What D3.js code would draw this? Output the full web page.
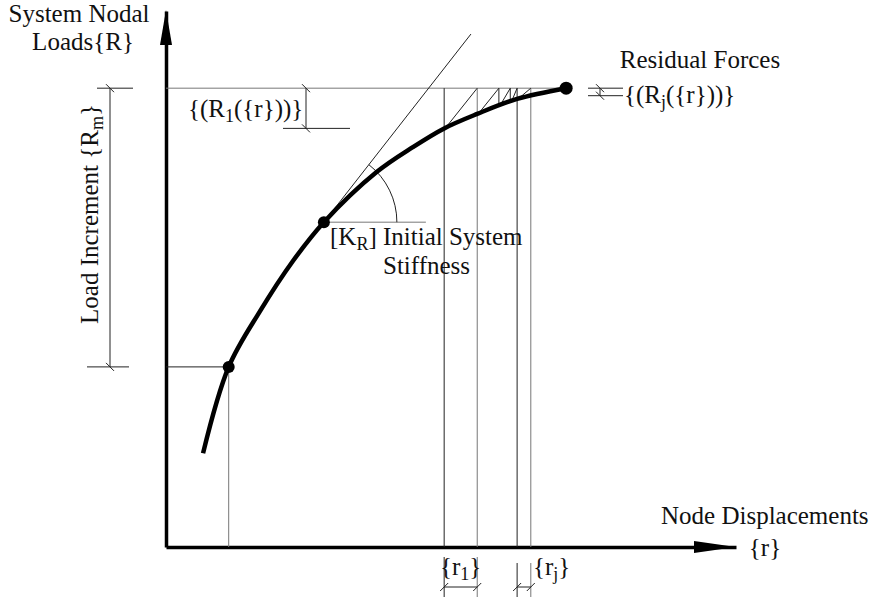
<!DOCTYPE html>
<html>
<head>
<meta charset="utf-8">
<script src="https://cdn.jsdelivr.net/npm/d3@7"></script>
<style>
  body { margin: 0; background: #fff; }
  text { font-family: "Liberation Serif", "Times New Roman", serif; font-size: 25px; fill: #111; }
</style>
</head>
<body>
<svg id="chart" width="871" height="597"></svg>
<script>
// response curve (displacement r, load R)
const curveDisp = [0.65, 1.10, 1.65, 2.23, 2.77, 3.70, 4.33, 4.88, 5.46, 6.16, 7.02];
const curveLoad = [1.75, 3.36, 4.40, 5.34, 6.06, 7.00, 7.46, 7.81, 8.08, 8.36, 8.56];

// marked states: start of increment, tangent point, converged state
const markDisp = [1.10, 2.77, 7.02];
const markLoad = [3.36, 6.06, 8.56];

// iteration states on the curve
const iterDisp = [4.88, 5.46, 5.84, 6.04, 6.16, 6.40];
const iterLoad = [7.81, 8.08, 8.23, 8.30, 8.36, 8.42];
const iterFull = [true, true, false, false, true, true];
const iterGray = [false, true, false, false, false, true];

// initial stiffness line end point and target load
const tangentEnd = [5.35, 9.57];
const targetLoad = 8.56;

const svg = d3.select('#chart');

const x = d3.scaleLinear().domain([0, 10]).range([166, 736]);
const y = d3.scaleLinear().domain([0, 10]).range([547, 11]);

const thin = '#222', gray = '#777';

function seg(x1, y1, x2, y2, color, w) {
  svg.append('line')
    .attr('x1', x1).attr('y1', y1).attr('x2', x2).attr('y2', y2)
    .attr('stroke', color || thin)
    .attr('stroke-width', w || 1);
}

// little architectural tick on a dimension line
function slash(cx, cy, dir) {
  const s = dir === 'up' ? -1 : 1;
  seg(cx - 4, cy - 4 * s, cx + 4, cy + 4 * s, thin, 1);
}

// text with subscripts: parts = [[string, isSub], ...]
function label(parts, px, py, anchor, rotate) {
  const t = svg.append('text')
    .attr('x', px).attr('y', py)
    .attr('text-anchor', anchor || 'start');
  if (rotate) t.attr('transform', `rotate(${rotate},${px},${py})`);
  let shifted = false;
  parts.forEach(([s, sub]) => {
    const sp = t.append('tspan').text(s);
    if (sub && !shifted) { sp.attr('dy', 5).style('font-size', '18px'); shifted = true; }
    else if (!sub && shifted) { sp.attr('dy', -5); shifted = false; }
    else if (sub) sp.style('font-size', '18px');
  });
  return t;
}

// axes (no ticks, just the bold arrows)
const xAxisG = svg.append('g')
  .attr('transform', `translate(0,${y(0)})`)
  .call(d3.axisBottom(x).tickValues([]).tickSizeOuter(0));
const yAxisG = svg.append('g')
  .attr('transform', `translate(${x(0)},0)`)
  .call(d3.axisLeft(y).tickValues([]).tickSizeOuter(0));
[xAxisG, yAxisG].forEach(g => g.select('.domain').attr('stroke', '#000').attr('stroke-width', 3.5));

svg.append('path')
  .attr('d', `M${x(0) - 6},45 L${x(0)},${y(10) - 1} L${x(0) + 6},45 Z`)
  .attr('fill', '#000');
svg.append('path')
  .attr('d', `M694,${y(0) - 6} L${x(10)},${y(0)} L694,${y(0) + 6} Z`)
  .attr('fill', '#000');

// target load line
seg(x(0), y(targetLoad), x(markDisp[2]), y(targetLoad), gray, 1);

// start of increment guides
seg(x(0), y(markLoad[0]), x(markDisp[0]), y(markLoad[0]), thin, 1);
seg(x(markDisp[0]), y(markLoad[0]), x(markDisp[0]), y(0), gray, 1);

// iteration verticals
iterDisp.forEach((d, i) => {
  const bottom = iterFull[i] ? y(0) : y(iterLoad[i]);
  seg(x(d), y(targetLoad), x(d), bottom, iterGray[i] ? gray : thin, 1);
});

// iteration diagonals (parallel stiffness steps)
iterDisp.slice(0, -1).forEach((d, i) => {
  seg(x(d) + 1, y(iterLoad[i]), x(iterDisp[i + 1]), y(targetLoad), thin, 1);
});

// initial stiffness tangent
seg(x(markDisp[1]), y(markLoad[1]), x(tangentEnd[0]), y(tangentEnd[1]), thin, 1);

// angle marker
const cx = x(markDisp[1]), cy = y(markLoad[1]);
const theta = Math.atan2(cy - y(tangentEnd[1]), x(tangentEnd[0]) - cx);
seg(cx, cy, cx + 102, cy, gray, 1);
const arcP = d3.path();
arcP.moveTo(cx + 73, cy);
arcP.arc(cx, cy, 73, 0, -theta, true);
svg.append('path').attr('d', arcP.toString()).attr('fill', 'none').attr('stroke', thin);

// response curve
const line = d3.line()
  .x(d => x(d[0]))
  .y(d => y(d[1]))
  .curve(d3.curveCatmullRom.alpha(0.5));
svg.append('path')
  .datum(curveDisp.map((d, i) => [d, curveLoad[i]]))
  .attr('d', line)
  .attr('fill', 'none')
  .attr('stroke', '#000')
  .attr('stroke-width', 4.5)
  .attr('stroke-linecap', 'butt');

svg.selectAll('circle.mark')
  .data(markDisp)
  .enter()
  .append('circle')
  .attr('class', 'mark')
  .attr('cx', d => x(d))
  .attr('cy', (d, i) => y(markLoad[i]))
  .attr('r', (d, i) => i === 2 ? 6.5 : 6)
  .attr('fill', '#000');

// load increment dimension
const dimX = 110;
seg(dimX, y(targetLoad), dimX, y(markLoad[0]), thin, 1);
seg(dimX - 13, y(targetLoad), dimX + 23, y(targetLoad), thin, 1);
seg(dimX - 23, y(markLoad[0]), dimX + 19, y(markLoad[0]), thin, 1);
slash(dimX, y(targetLoad));
slash(dimX, y(markLoad[0]));

// first residual dimension
const r1X = 306;
seg(r1X, y(targetLoad), r1X, y(iterLoad[0]), thin, 1);
seg(283, y(iterLoad[0]), 350, y(iterLoad[0]), thin, 1);
slash(r1X, y(targetLoad));
slash(r1X, y(iterLoad[0]));

// last residual dimension
const last = iterLoad.length - 1;
seg(588, y(targetLoad), 623, y(targetLoad), thin, 1);
seg(588, y(iterLoad[last]), 623, y(iterLoad[last]), thin, 1);
seg(600, y(targetLoad), 600, y(iterLoad[last]), thin, 1);
slash(600, y(targetLoad));
slash(600, y(iterLoad[last]));

// displacement dimensions below axis
function dispDim(a, b, top) {
  seg(x(a), top, x(a), 597, thin, 1);
  seg(x(b), top, x(b), 597, gray, 1);
  seg(x(a), 587, x(b), 587, thin, 1);
  slash(x(a), 587, 'up');
  slash(x(b), 587, 'up');
}
dispDim(iterDisp[0], iterDisp[1], 557);
dispDim(iterDisp[4], iterDisp[5], 563);

// labels
label([['System Nodal']], 79, 22, 'middle');
label([['Loads{R}']], 83, 50, 'middle');
label([['Residual Forces']], 700, 68, 'middle');
label([['{(R'], ['j', true], ['({r}))}']], 624, 103);
label([['{(R'], ['1', true], ['({r}))}']], 188, 117);
label([['[K'], ['R', true], ['] Initial System']], 330, 245);
label([['Stiffness']], 383, 274);
label([['Load Increment {R'], ['m', true], ['}']], 98, 214, 'middle', -90);
label([['Node Displacements']], 661, 524);
label([['{r}']], 765, 556, 'middle');
label([['{r'], ['1', true], ['}']], 440, 575);
label([['{r'], ['j', true], ['}']], 533, 575);
</script>
</body>
</html>
